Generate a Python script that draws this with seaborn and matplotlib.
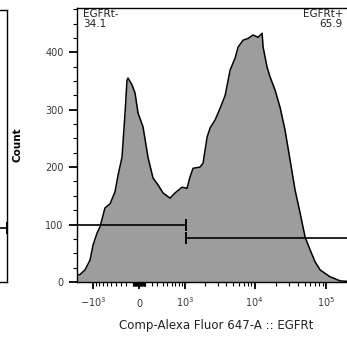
import matplotlib
matplotlib.use('Agg')
import matplotlib.pyplot as plt
import seaborn as sns
from matplotlib.ticker import FixedLocator

# histogram outline (biex x axis, count y axis)
fluor = [-1741, -1574, -1328, -1117, -1004, -869, -776, -639, -517, -410, -350,
         -277, -224, -191, -174, -109, -62, -15, 62, 141, 224,
         313, 410, 564, 691, 901, 1077, 1197, 1328, 1684, 1862,
         2126, 2346, 2766, 3274, 3845, 4516, 5310, 5842, 6866, 8069,
         9481, 11147, 12688, 13099, 14901, 16415, 19290, 22660, 26640, 31300,
         36780, 43240, 50800, 59700, 70150, 82460, 113900, 157200, 262144]
count = [12, 13, 21, 38, 64, 85, 96, 129, 136, 157, 186,
         217, 294, 351, 355, 343, 329, 294, 270, 217, 181,
         169, 155, 146, 155, 165, 163, 183, 198, 200, 207,
         252, 268, 282, 303, 325, 369, 390, 409, 421, 424,
         430, 426, 433, 409, 374, 357, 334, 304, 264, 212,
         160, 120, 78, 56, 35, 21, 9, 2, 0]

# gates: (start, end, level)
gate_neg = (-1741, 1050, 100)
gate_pos = (1050, 262144, 77)
gate_names = ['EGFRt-', 'EGFRt+']
gate_freq = ['34.1', '65.9']

# gate that ends on the (cropped) panel to the left
left_panel_gate = 0.2

x_range = (-1741, 262144)
y_range = (0, 477)
x_major = [-1000, 0, 1000, 10000, 100000]
x_major_labels = [r'$-10^3$', '0', r'$10^3$', r'$10^4$', r'$10^5$']

sns.set_style('ticks')
plt.rcParams['font.family'] = ['DejaVu Sans']
plt.rcParams['mathtext.default'] = 'regular'

fig = plt.figure(figsize=(3.47, 3.40), dpi=100)
ax = fig.add_axes([77 / 347, 58 / 340, 279 / 347, 274 / 340])
ax0 = fig.add_axes([-0.1, 58 / 340, 0.1 + 7 / 347, 272 / 340])

# left neighbour panel, only its right edge is visible
ax0.set_xlim(0, 1)
ax0.set_ylim(0, 1)
ax0.set_xticks([])
ax0.set_yticks([])
for s in ax0.spines.values():
    s.set_color('black')
    s.set_linewidth(1.0)
ax0.plot([0, 1], [left_panel_gate, left_panel_gate], color='black', lw=1.2)
ax0.plot([1], [left_panel_gate], marker='|', ms=9, mew=1.4, color='black')

# histogram
ax.fill_between(fluor, count, color='#9d9d9d', lw=0)
sns.lineplot(x=fluor, y=count, ax=ax, color='black', lw=1.1, estimator=None)

# gates
for (g0, g1, lvl) in [gate_neg, gate_pos]:
    ax.plot([g0, g1], [lvl, lvl], color='black', lw=1.2)
gcap = [gate_neg[1], gate_pos[0]]
ax.plot([gcap[0]], [gate_neg[2]], marker='|', ms=9, mew=1.4, color='black')
ax.plot([gcap[1]], [gate_pos[2]], marker='|', ms=9, mew=1.4, color='black')

ax.set_xscale('asinh', linear_width=480)
ax.set_xlim(*x_range)
ax.set_ylim(*y_range)

ax.set_xticks(x_major, labels=x_major_labels)
minor = [s * m * d for d in (10, 100) for m in range(1, 10) for s in (-1, 1)]
minor += [m * d for d in (1000, 10000, 100000) for m in range(2, 10)]
ax.xaxis.set_minor_locator(FixedLocator(minor))
ax.set_yticks([0, 100, 200, 300, 400])
ax.yaxis.set_minor_locator(FixedLocator(list(range(25, 477, 25))))

ax.tick_params(which='major', length=6, width=1.3, color='black',
               labelsize=7, labelcolor='#3a3a3a')
ax.tick_params(which='minor', length=3, width=0.8, color='black')
ax.tick_params(axis='y', which='major', pad=3.5)
ax.tick_params(axis='x', which='major', length=5, pad=13)
for lbl in ax.get_xticklabels():
    lbl.set_verticalalignment('baseline')

for s in ax.spines.values():
    s.set_color('black')
    s.set_linewidth(1.0)

ax.set_xlabel('Comp-Alexa Fluor 647-A :: EGFRt', fontsize=8.5, color='#222222')
ax.xaxis.set_label_coords(0.5, -0.135)
ax.xaxis.label.set_verticalalignment('top')
ax.set_ylabel('Count', fontsize=7.5, fontweight='bold', color='black')
ax.yaxis.set_label_coords(-0.197, 0.5)

ax.text(0.022, 0.995, gate_names[0] + '\n' + gate_freq[0], transform=ax.transAxes,
        ha='left', va='top', fontsize=7.5, linespacing=1.0, color='#222222')
ax.text(0.953, 0.995, gate_names[1] + '\n' + gate_freq[1], transform=ax.transAxes,
        ha='right', va='top', fontsize=7.5, linespacing=1.0, color='#222222',
        multialignment='right')

fig.savefig('out.png', dpi=100)
